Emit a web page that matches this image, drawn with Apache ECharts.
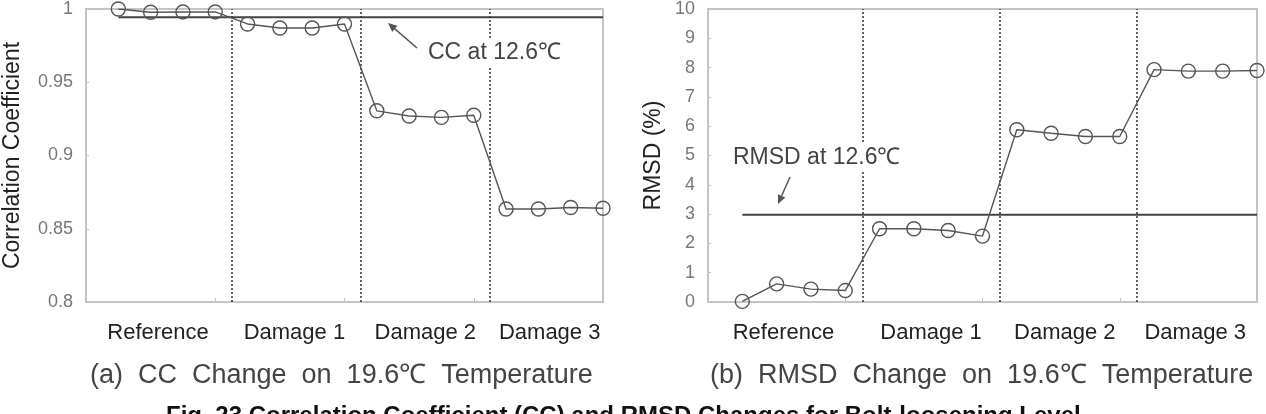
<!DOCTYPE html>
<html>
<head>
<meta charset="utf-8">
<script src="https://cdn.jsdelivr.net/npm/echarts@6/dist/echarts.min.js"></script>
<style>
  html, body { margin: 0; padding: 0; background: #fff; }
  #main { width: 1266px; height: 414px; }
</style>
</head>
<body>
<div id="main"></div>
<script>
// group names under the x axis, and where each name sits (in point index units)
var groupNames = ['Reference', 'Damage 1', 'Damage 2', 'Damage 3'];
var ccLabelPos = [1.23, 5.45, 9.5, 13.35];
var rmsdLabelPos = [1.2, 5.5, 9.4, 13.2];
var dividers = [3.5, 7.5, 11.5];

// (a) correlation coefficient at 19.6C, 4 measurements per group
var ccValues = [1.0, 0.9978, 0.998, 0.998, 0.9898, 0.987, 0.987, 0.9898,
                0.9305, 0.927, 0.926, 0.9275, 0.8635, 0.8635, 0.8645, 0.864];
var ccAt126 = 0.9943;

// (b) RMSD (%) at 19.6C
var rmsdValues = [0.02, 0.62, 0.44, 0.39, 2.5, 2.5, 2.44, 2.25,
                  5.88, 5.76, 5.65, 5.65, 7.93, 7.88, 7.88, 7.9];
var rmsdAt126 = 2.98;

var ccTicks = [0.8, 0.85, 0.9, 0.95, 1];

var font = "'Liberation Sans', Arial, sans-serif";
var grey = '#555';
var frame = '#c4c4c4';

function toPoints(vals) {
  return vals.map(function (v, i) { return [i, v]; });
}
function flatLine(v, n) {
  return [[0, v], [n - 1, v]];
}

function xAxisFor(gridIndex, labelPos) {
  return {
    gridIndex: gridIndex,
    type: 'value',
    min: -1, max: 15, interval: 4,
    axisLine: { onZero: false, lineStyle: { color: frame, width: 2 } },
    axisTick: { inside: true, length: 4, customValues: [-1, 3, 7, 11, 15], lineStyle: { color: frame } },
    splitLine: { show: false },
    axisLabel: {
      customValues: labelPos,
      margin: 20,
      fontFamily: font, fontSize: 22, color: '#222',
      formatter: function (v) {
        var k = labelPos.indexOf(v);
        return k >= 0 ? groupNames[k] : '';
      }
    }
  };
}

function yAxisFor(gridIndex, name, min, max, interval, gap, fmt) {
  return {
    gridIndex: gridIndex,
    type: 'value',
    min: min, max: max, interval: interval,
    name: name, nameLocation: 'middle', nameGap: gap,
    nameTextStyle: { fontFamily: font, fontSize: 23, color: '#222' },
    axisLine: { show: true, onZero: false, lineStyle: { color: frame, width: 2 } },
    axisTick: { show: true, inside: true, length: 3, lineStyle: { color: frame } },
    splitLine: { show: false },
    axisLabel: { margin: 13, fontFamily: font, fontSize: 18, color: '#777', formatter: fmt }
  };
}

function mainSeries(idx, vals) {
  return {
    type: 'line',
    xAxisIndex: idx, yAxisIndex: idx,
    data: toPoints(vals),
    symbol: 'circle', symbolSize: 14,
    itemStyle: { color: 'rgba(255,255,255,0)', borderColor: grey, borderWidth: 1.4 },
    lineStyle: { color: grey, width: 1.4 },
    z: 5,
    animation: false,
    markLine: {
      silent: true, symbol: 'none',
      label: { show: false },
      lineStyle: { type: [2, 2], color: '#333', width: 1.5 },
      data: dividers.map(function (d) { return { xAxis: d }; })
    }
  };
}

function refSeries(idx, v) {
  return {
    type: 'line',
    xAxisIndex: idx, yAxisIndex: idx,
    data: flatLine(v, ccValues.length),
    symbol: 'none',
    lineStyle: { color: '#444', width: 2 },
    z: 4,
    animation: false
  };
}

function arrow(x1, y1, x2, y2) {
  var a = Math.atan2(y2 - y1, x2 - x1), L = 9, W = 4;
  var bx = x2 - L * Math.cos(a), by = y2 - L * Math.sin(a);
  var px = -Math.sin(a) * W, py = Math.cos(a) * W;
  return [
    { type: 'line', z: 100, shape: { x1: x1, y1: y1, x2: bx, y2: by }, style: { stroke: grey, lineWidth: 1.5 } },
    { type: 'polygon', z: 100, shape: { points: [[x2, y2], [bx + px, by + py], [bx - px, by - py]] }, style: { fill: grey } }
  ];
}

var chart = echarts.init(document.getElementById('main'), null, { renderer: 'canvas' });

var graphics = [
  { type: 'text', z: 100, left: 426, top: 39,
    style: { text: 'CC at 12.6℃', font: '23px ' + font, fill: '#444', backgroundColor: '#fff', padding: [2, 2] } },
  { type: 'text', z: 100, left: 731, top: 144,
    style: { text: 'RMSD at 12.6℃', font: '23px ' + font, fill: '#444', backgroundColor: '#fff', padding: [2, 2] } },
  { type: 'text', z: 100, top: 362, left: 90,
    style: { text: '(a)  CC  Change  on  19.6℃  Temperature', font: '27px ' + font, fill: '#444' } },
  { type: 'text', z: 100, top: 362, left: 710,
    style: { text: '(b)  RMSD  Change  on  19.6℃  Temperature', font: '27px ' + font, fill: '#444' } },
  { type: 'text', z: 100, top: 404, left: 166,
    style: { text: 'Fig. 23 Correlation Coefficient (CC) and RMSD Changes for Bolt-loosening Level', font: 'bold 24px ' + font, fill: '#111' } }
].concat(arrow(417, 48, 388, 23)).concat(arrow(790, 177, 778, 204));

chart.setOption({
  backgroundColor: '#fff',
  animation: false,
  grid: [
    { left: 83, right: 663, top: 9, bottom: 112, show: true, borderColor: frame, borderWidth: 2 },
    { left: 708, right: 9, top: 9, bottom: 112, show: true, borderColor: frame, borderWidth: 2 }
  ],
  xAxis: [xAxisFor(0, ccLabelPos), xAxisFor(1, rmsdLabelPos)],
  yAxis: [
    yAxisFor(0, 'Correlation Coefficient', 0.8, 1, 0.05, 62, function (v) { return ccTicks.indexOf(+v.toFixed(2)) >= 0 ? String(+v.toFixed(2)) : ''; }),
    yAxisFor(1, 'RMSD (%)', 0, 10, 1, 43, null)
  ],
  series: [
    mainSeries(0, ccValues),
    refSeries(0, ccAt126),
    mainSeries(1, rmsdValues),
    refSeries(1, rmsdAt126)
  ],
  graphic: graphics
});
</script>
</body>
</html>
